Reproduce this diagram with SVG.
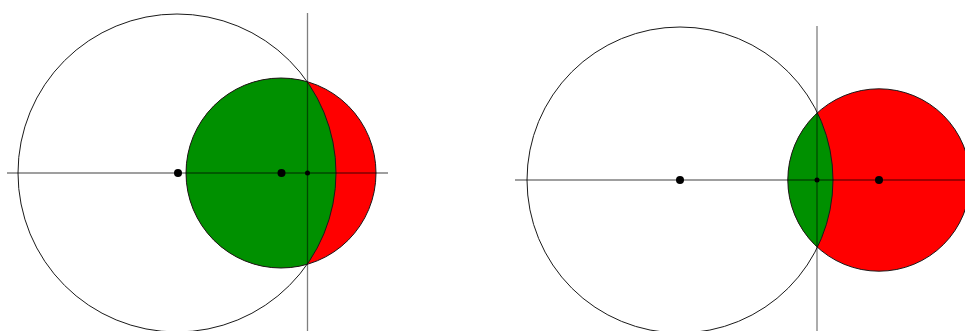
<svg xmlns="http://www.w3.org/2000/svg" width="965" height="331" viewBox="0 0 965 331">
<style>
.ring{fill:none;stroke:#1a1a1a;stroke-width:1}
.axis{stroke:#000;stroke-opacity:0.5;stroke-width:1.3}
.red{fill:#ff0000}
.green{fill:#009000}
.dot{fill:#000}
</style>
<defs>
<clipPath id="cl1"><circle cx="177" cy="173" r="159"/></clipPath>
<clipPath id="cl2"><circle cx="680" cy="180" r="153"/></clipPath>
</defs>
<rect width="965" height="331" fill="#fff"/>
<g id="left-figure">
<circle class="red" cx="281" cy="173" r="95"/>
<circle class="green" cx="281" cy="173" r="95" clip-path="url(#cl1)"/>
<circle class="ring" cx="281" cy="173" r="95"/>
<circle class="ring" cx="177" cy="173" r="159"/>
<line class="axis" x1="7" y1="173" x2="388" y2="173"/>
<line class="axis" x1="307.5" y1="13" x2="307.5" y2="331"/>
<circle class="dot" cx="178" cy="173" r="4"/>
<circle class="dot" cx="281.5" cy="173" r="4"/>
<circle class="dot" cx="307.5" cy="173" r="2.5"/>
</g>
<g id="right-figure">
<circle class="red" cx="879" cy="180" r="91.2"/>
<circle class="green" cx="879" cy="180" r="91.2" clip-path="url(#cl2)"/>
<circle class="ring" cx="879" cy="180" r="91.2"/>
<circle class="ring" cx="680" cy="180" r="153"/>
<line class="axis" x1="515" y1="180" x2="965" y2="180"/>
<line class="axis" x1="817" y1="26" x2="817" y2="331"/>
<circle class="dot" cx="680" cy="180" r="4"/>
<circle class="dot" cx="879" cy="180" r="4"/>
<circle class="dot" cx="817" cy="180" r="2.5"/>
</g>
</svg>
